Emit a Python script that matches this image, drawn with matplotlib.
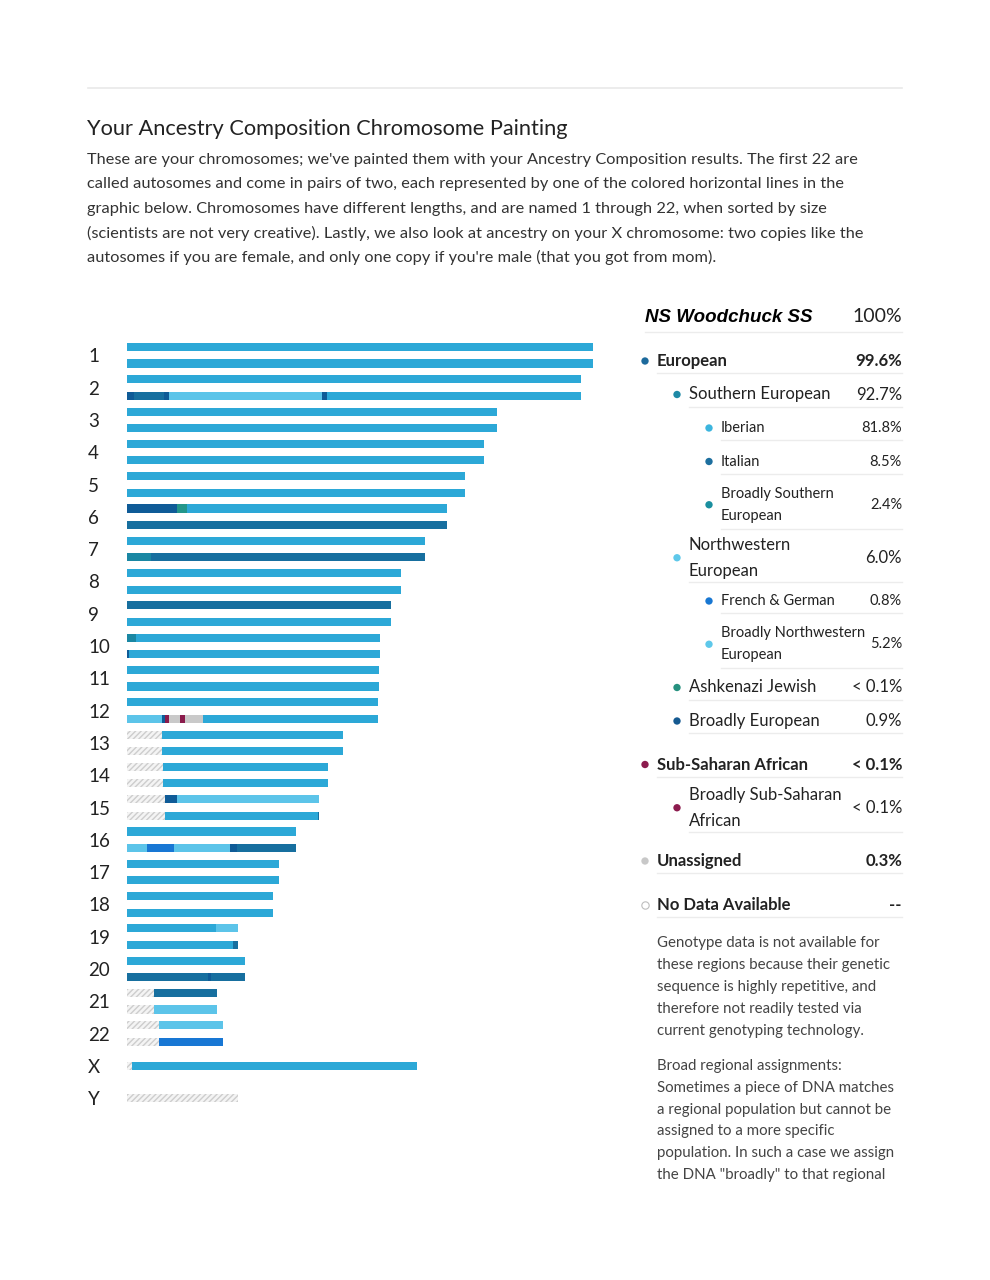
import matplotlib.pyplot as plt
from matplotlib.transforms import blended_transform_factory

plt.rcParams['font.family'] = ['Lato', 'DejaVu Sans']
plt.rcParams['hatch.linewidth'] = 1.0

# chromosome names and lengths (Mb)
chrom_names = [str(i) for i in range(1, 23)] + ['X', 'Y']
chrom_length = [249.6, 243.2, 198.2, 191.2, 181.0, 171.4, 159.6, 146.8, 141.4, 135.5, 135.0, 134.4,
                115.7, 107.7, 102.8, 90.5, 81.4, 78.2, 59.5, 63.2, 48.2, 51.4, 155.3, 59.5]

# ancestry categories -> colours
cat_colors = {
    'IB': '#2ca8d7',   # Iberian
    'IT': '#176f9f',   # Italian
    'BS': '#1a87a3',   # Broadly Southern European
    'NW': '#5cc4e9',   # Broadly Northwestern European
    'FG': '#1877d4',   # French & German
    'AJ': '#23968a',   # Ashkenazi Jewish
    'BE': '#0f5b97',   # Broadly European
    'SS': '#8a1b4c',   # Sub-Saharan African
    'UN': '#c9c9c9',   # Unassigned
}

# painted segments (start, end, category) for copies that are not all Iberian
painted = {
    ('2', 1): [(0, 4, 'BE'), (4, 20, 'IT'), (20, 22.5, 'BE'), (22.5, 104.5, 'NW'),
               (104.5, 107, 'BE'), (107, 243.2, 'IB')],
    ('6', 0): [(0, 27, 'BE'), (27, 32, 'AJ'), (32, 171.4, 'IB')],
    ('6', 1): [(0, 171.4, 'IT')],
    ('7', 1): [(0, 13, 'BS'), (13, 159.6, 'IT')],
    ('9', 0): [(0, 141.4, 'IT')],
    ('10', 0): [(0, 5, 'BS'), (5, 135.5, 'IB')],
    ('10', 1): [(0, 1.2, 'BE'), (1.2, 135.5, 'IB')],
    ('12', 1): [(0, 18.7, 'NW'), (18.7, 20.3, 'BE'), (20.3, 22.5, 'SS'), (22.5, 28.4, 'UN'),
                (28.4, 31, 'SS'), (31, 40.7, 'UN'), (40.7, 134.4, 'IB')],
    ('13', 0): [(0, 18.7, 'ND'), (18.7, 115.7, 'IB')],
    ('13', 1): [(0, 18.7, 'ND'), (18.7, 115.7, 'IB')],
    ('14', 0): [(0, 19.3, 'ND'), (19.3, 107.7, 'IB')],
    ('14', 1): [(0, 19.3, 'ND'), (19.3, 107.7, 'IB')],
    ('15', 0): [(0, 20.3, 'ND'), (20.3, 26.8, 'BE'), (26.8, 102.8, 'NW')],
    ('15', 1): [(0, 20.3, 'ND'), (20.3, 102.2, 'IB'), (102.2, 102.8, 'IT')],
    ('16', 1): [(0, 10.7, 'NW'), (10.7, 25, 'FG'), (25, 55, 'NW'), (55, 59, 'BE'), (59, 90.5, 'IT')],
    ('19', 0): [(0, 47.7, 'IB'), (47.7, 59.5, 'NW')],
    ('19', 1): [(0, 56.8, 'IB'), (56.8, 59.5, 'IT')],
    ('20', 1): [(0, 43.5, 'IT'), (43.5, 45, 'BE'), (45, 63.2, 'IT')],
    ('21', 0): [(0, 14.5, 'ND'), (14.5, 48.2, 'IT')],
    ('21', 1): [(0, 14.5, 'ND'), (14.5, 48.2, 'NW')],
    ('22', 0): [(0, 17, 'ND'), (17, 51.4, 'NW')],
    ('22', 1): [(0, 17, 'ND'), (17, 51.4, 'FG')],
    ('X', 0): [(0, 2.7, 'ND'), (2.7, 155.3, 'IB')],
    ('Y', 0): [(0, 59.5, 'ND')],
}

# legend table
legend_labels = ['European', 'Southern European', 'Iberian', 'Italian', 'Broadly Southern\nEuropean',
                 'Northwestern\nEuropean', 'French & German', 'Broadly Northwestern\nEuropean',
                 'Ashkenazi Jewish', 'Broadly European', 'Sub-Saharan African',
                 'Broadly Sub-Saharan\nAfrican', 'Unassigned', 'No Data Available']
legend_values = ['99.6%', '92.7%', '81.8%', '8.5%', '2.4%', '6.0%', '0.8%', '5.2%',
                 '< 0.1%', '0.9%', '< 0.1%', '< 0.1%', '0.3%', '--']
legend_levels = [0, 1, 2, 2, 2, 1, 2, 2, 1, 1, 0, 1, 0, 0]
legend_colors = ['#1d6a9c', '#1f8aa6', '#3cb5de', '#1d6f9f', '#1a8f9f', '#5ec8ea', '#1877d2',
                 '#5ec8ea', '#26917f', '#155a91', '#8c1c4e', '#8c1c4e', '#c8c8c8', 'white']

title = 'Your Ancestry Composition Chromosome Painting'
intro = ["These are your chromosomes; we've painted them with your Ancestry Composition results. The first 22 are",
         'called autosomes and come in pairs of two, each represented by one of the colored horizontal lines in the',
         'graphic below. Chromosomes have different lengths, and are named 1 through 22, when sorted by size',
         '(scientists are not very creative). Lastly, we also look at ancestry on your X chromosome: two copies like the',
         "autosomes if you are female, and only one copy if you're male (that you got from mom)."]
note1 = ['Genotype data is not available for', 'these regions because their genetic',
         'sequence is highly repetitive, and', 'therefore not readily tested via',
         'current genotyping technology.']
note2 = ['Broad regional assignments:', 'Sometimes a piece of DNA matches',
         'a regional population but cannot be', 'assigned to a more specific',
         'population. In such a case we assign', 'the DNA "broadly" to that regional']

W, H = 990, 1280
fig = plt.figure(figsize=(9.9, 12.8), dpi=100)

# page overlay in pixel units for the text parts
ov = fig.add_axes([0, 0, 1, 1])
ov.set_xlim(0, W)
ov.set_ylim(H, 0)
ov.axis('off')

dark = '#222222'
ov.plot([88, 902], [88, 88], color='#e9e9e9', lw=1.2)
ov.text(87, 129, title, fontsize=15.7, color=dark, va='center')
for i, line in enumerate(intro):
    ov.text(87, 160 + i * 24.4, line, fontsize=11.8, color='#333333', va='center')

# chromosome painting
ax = fig.add_axes([127 / W, 1 - 1120 / H, 466 / W, 790 / H])
ax.set_xlim(0, 466 / 1.867)
ax.set_ylim(23.677, -0.7817)
ax.axis('off')
lab_tr = blended_transform_factory(ax.transAxes, ax.transData)

for k, name in enumerate(chrom_names):
    ncopies = 1 if name in ('X', 'Y') else 2
    offsets = [0.0] if ncopies == 1 else [-0.255, 0.255]
    for c in range(ncopies):
        segs = painted.get((name, c), [(0, chrom_length[k], 'IB')])
        for start, end, cat in segs:
            if cat == 'ND':
                ax.barh(k + offsets[c], end - start, left=start, height=0.25,
                        facecolor='#f4f4f4', edgecolor='#cdcdcd', hatch='//////', linewidth=0)
            else:
                ax.barh(k + offsets[c], end - start, left=start, height=0.25,
                        color=cat_colors[cat], linewidth=0)
    ax.text(-39 / 466, k + 0.05, name, transform=lab_tr, fontsize=13.5, color=dark,
            ha='left', va='center')

# legend table on the right
ov.text(645, 317, 'NS Woodchuck SS', family=['Liberation Sans'], fontsize=13.5,
        fontweight='bold', fontstyle='italic', color='black', va='center')
ov.text(902, 316, '100%', fontsize=14, color=dark, ha='right', va='center')
ov.plot([645, 902], [332, 332], color='#ececec', lw=1)

y = 344.25
for i, lab in enumerate(legend_labels):
    lev = legend_levels[i]
    nl = lab.count('\n') + 1
    h = 33.5 if nl == 1 else 53
    if lev == 0 and i > 0:
        y += 10
    yc = y + h / 2
    dot_x = 645 + 32 * lev
    txt_x = dot_x + 12
    fs = 10.5 if lev == 2 else 12
    fw = 'bold' if lev == 0 else 'normal'
    ov.scatter([dot_x], [yc], s=28, color=legend_colors[i],
               edgecolors='#bdbdbd' if legend_colors[i] == 'white' else 'none', linewidths=0.8)
    ov.text(txt_x, yc, lab, fontsize=fs, fontweight=fw, color=dark, va='center',
            linespacing=1.75)
    ov.text(902, yc, legend_values[i], fontsize=fs, fontweight=fw, color=dark,
            ha='right', va='center')
    ov.plot([txt_x, 902], [yc + (12 if nl == 1 else 24)] * 2, color='#ececec', lw=1)
    y += h

for i, line in enumerate(note1):
    ov.text(657, 943 + i * 22, line, fontsize=10.8, color='#444444', va='center')
for i, line in enumerate(note2):
    ov.text(657, 1066 + i * 21.8, line, fontsize=10.8, color='#444444', va='center')

fig.savefig('out.png', dpi=100, facecolor='white')
